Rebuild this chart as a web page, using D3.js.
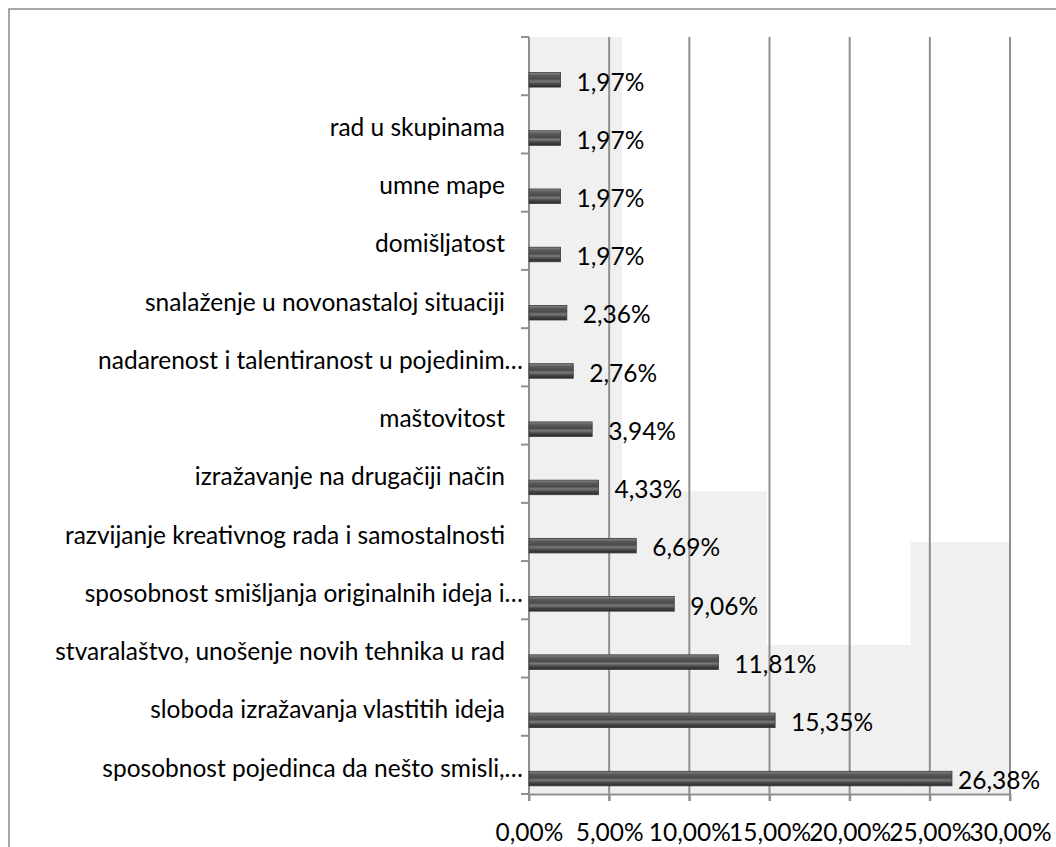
<!DOCTYPE html>
<html>
<head>
<meta charset="utf-8">
<script src="https://cdn.jsdelivr.net/npm/d3@7"></script>
<style>
  body { margin: 0; background: #fff; }
  text { font-family: Lato, "Open Sans", sans-serif; fill: #000; }
</style>
</head>
<body>
<div id="vis"></div>
<script>
const FRAME_WIDTH = 1056;
const FRAME_HEIGHT = 847;
const MARGINS = {left: 529, right: 46, top: 37, bottom: 53};
const FONT = "24.5px";

// categories, top to bottom as in the picture (first one has no label)
const categories = [
  "",
  "rad u skupinama",
  "umne mape",
  "domišljatost",
  "snalaženje u novonastaloj situaciji",
  "nadarenost i talentiranost u pojedinim…",
  "maštovitost",
  "izražavanje na drugačiji način",
  "razvijanje kreativnog rada i samostalnosti",
  "sposobnost smišljanja originalnih ideja i…",
  "stvaralaštvo, unošenje novih tehnika u rad",
  "sloboda izražavanja vlastitih ideja",
  "sposobnost pojedinca da nešto smisli,…"
];
const values = [1.97, 1.97, 1.97, 1.97, 2.36, 2.76, 3.94, 4.33, 6.69, 9.06, 11.81, 15.35, 26.38];
const xTicks = [0, 5, 10, 15, 20, 25, 30];

const data = categories.map((c, i) => ({i: i, name: c, value: values[i]}));
const fmt = (v) => v.toFixed(2).replace(".", ",") + "%";

const VIS_WIDTH = FRAME_WIDTH - MARGINS.left - MARGINS.right;
const VIS_HEIGHT = FRAME_HEIGHT - MARGINS.top - MARGINS.bottom;

const FRAME = d3.select("#vis")
  .append("svg")
    .attr("width", FRAME_WIDTH)
    .attr("height", FRAME_HEIGHT);

// outer chart border (only top and left visible in the crop)
FRAME.append("rect")
  .attr("x", 9).attr("y", 9)
  .attr("width", 1200).attr("height", 1000)
  .attr("fill", "none")
  .attr("stroke", "#8a8a8a")
  .attr("stroke-width", 1.5);

const X_SCALE = d3.scaleLinear()
  .domain([0, 30])
  .range([MARGINS.left, MARGINS.left + VIS_WIDTH]);

const Y_SCALE = d3.scaleBand()
  .domain(data.map(d => d.i))
  .range([MARGINS.top, MARGINS.top + VIS_HEIGHT]);

const BOTTOM = MARGINS.top + VIS_HEIGHT;
const bw = Y_SCALE.bandwidth();

// light grey back wall pieces (x in %, y as fraction of the plot height)
const wall = [
  {x0: 0, x1: 5.8, y0: 0},
  {x0: 5.8, x1: 14.82, y0: 0.6},
  {x0: 14.82, x1: 23.8, y0: 0.803},
  {x0: 23.8, x1: 30, y0: 0.667}
];
FRAME.selectAll(".wall")
  .data(wall)
  .enter()
  .append("rect")
    .attr("x", d => X_SCALE(d.x0))
    .attr("width", d => X_SCALE(d.x1) - X_SCALE(d.x0))
    .attr("y", d => MARGINS.top + d.y0 * VIS_HEIGHT)
    .attr("height", d => (1 - d.y0) * VIS_HEIGHT)
    .attr("fill", "#f0f0f0");

// gridlines
FRAME.selectAll(".grid")
  .data(xTicks.slice(1))
  .enter()
  .append("line")
    .attr("x1", d => X_SCALE(d)).attr("x2", d => X_SCALE(d))
    .attr("y1", MARGINS.top).attr("y2", BOTTOM + 7)
    .attr("stroke", "#8f8f8f")
    .attr("stroke-width", 2);

// left axis line and band ticks
FRAME.append("line")
  .attr("x1", X_SCALE(0)).attr("x2", X_SCALE(0))
  .attr("y1", MARGINS.top).attr("y2", BOTTOM + 7)
  .attr("stroke", "#8f8f8f")
  .attr("stroke-width", 2);

FRAME.selectAll(".ytick")
  .data(data.map(d => Y_SCALE(d.i)).concat([BOTTOM]))
  .enter()
  .append("line")
    .attr("x1", X_SCALE(0) - 8).attr("x2", X_SCALE(0))
    .attr("y1", d => d).attr("y2", d => d)
    .attr("stroke", "#8f8f8f")
    .attr("stroke-width", 2);

// bottom axis
const xAxis = FRAME.append("g")
  .attr("transform", "translate(0," + BOTTOM + ")")
  .call(d3.axisBottom(X_SCALE).tickValues(xTicks).tickFormat(fmt).tickSize(7).tickSizeOuter(0));
xAxis.select(".domain").attr("stroke", "#8f8f8f").attr("stroke-width", 2);
xAxis.selectAll(".tick line").attr("stroke", "#8f8f8f").attr("stroke-width", 2);
xAxis.selectAll(".tick text")
  .attr("y", 47).attr("dy", 0)
  .attr("font-size", FONT)
  .attr("font-family", "Lato, sans-serif")
  .attr("fill", "#000");

// bar gradient (cylinder look)
const defs = FRAME.append("defs");
const grad = defs.append("linearGradient")
  .attr("id", "barGrad")
  .attr("x1", 0).attr("y1", 0).attr("x2", 0).attr("y2", 1);
[[0, "#8a8a8a"], [0.2, "#5a5a5a"], [0.45, "#4a4a4a"], [0.6, "#7a7a7a"], [0.8, "#444"], [1, "#2a2a2a"]]
  .forEach(s => grad.append("stop").attr("offset", s[0]).attr("stop-color", s[1]));

FRAME.selectAll(".bar")
  .data(data)
  .enter()
  .append("rect")
    .attr("x", X_SCALE(0))
    .attr("y", d => Y_SCALE(d.i) + bw * 0.61)
    .attr("width", d => X_SCALE(d.value) - X_SCALE(0))
    .attr("height", bw * 0.25)
    .attr("fill", "url(#barGrad)")
    .attr("stroke", "#3a3a3a")
    .attr("stroke-width", 0.8);

// value labels
FRAME.selectAll(".val")
  .data(data)
  .enter()
  .append("text")
    .attr("x", d => Math.min(X_SCALE(d.value) + 16, 958))
    .attr("y", d => Y_SCALE(d.i) + bw * 0.92)
    .attr("font-size", FONT)
    .text(d => fmt(d.value));

// category labels
FRAME.selectAll(".cat")
  .data(data)
  .enter()
  .append("text")
    .attr("x", d => d.name.endsWith("…") ? 523 : 505)
    .attr("y", d => Y_SCALE(d.i) + bw * 0.7)
    .attr("text-anchor", "end")
    .attr("font-size", FONT)
    .text(d => d.name);
</script>
</body>
</html>
